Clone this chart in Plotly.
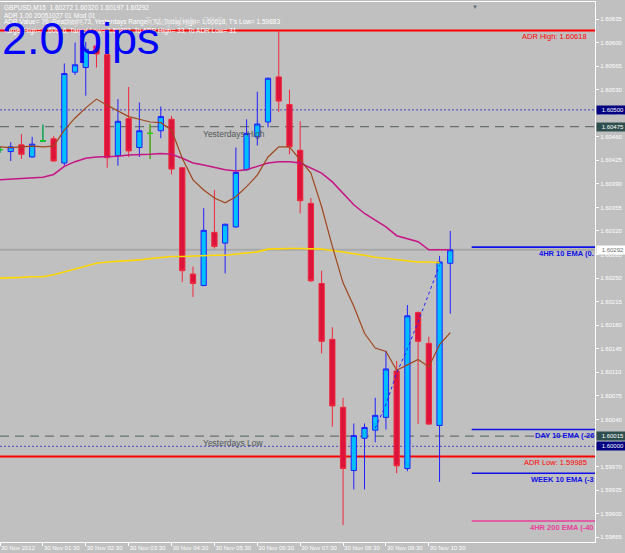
import plotly.graph_objects as go
import pandas as pd

# ---------------- data ----------------
start = pd.Timestamp("2012-11-30 00:30")
n_bars = 43
times = [start + pd.Timedelta(minutes=15 * i) for i in range(n_bars)]

opens = [1.60441, 1.60438, 1.60448, 1.60430, 1.60454, 1.60457, 1.60421, 1.60556, 1.60563, 1.60595,
         1.60582, 1.60432, 1.60487, 1.60444, 1.60465, 1.60469, 1.60486, 1.60414, 1.60256, 1.60239,
         1.60318, 1.60302, 1.60326, 1.60411, 1.60460, 1.60482, 1.60549, 1.60508, 1.60440, 1.60361,
         1.60242, 1.60159, 1.60058, 1.59964, 1.60012, 1.60024, 1.60043, 1.60112, 1.59967, 1.60199,
         1.60153, 1.60031, 1.60272]
highs = [1.60446, 1.60452, 1.60464, 1.60460, 1.60478, 1.60461, 1.60569, 1.60600, 1.60601, 1.60599,
         1.60585, 1.60516, 1.60534, 1.60511, 1.60479, 1.60505, 1.60491, 1.60415, 1.60267, 1.60354,
         1.60381, 1.60331, 1.60444, 1.60486, 1.60527, 1.60548, 1.60618, 1.60530, 1.60483, 1.60369,
         1.60261, 1.60177, 1.60072, 1.60034, 1.60034, 1.60072, 1.60142, 1.60127, 1.60210, 1.60200,
         1.60163, 1.60283, 1.60320]
lows = [1.60436, 1.60424, 1.60427, 1.60429, 1.60453, 1.60423, 1.60417, 1.60552, 1.60521, 1.60563,
        1.60414, 1.60417, 1.60430, 1.60430, 1.60427, 1.60458, 1.60404, 1.60244, 1.60222, 1.60238,
        1.60294, 1.60257, 1.60325, 1.60410, 1.60447, 1.60474, 1.60497, 1.60434, 1.60346, 1.60244,
        1.60138, 1.60029, 1.59883, 1.59936, 1.59936, 1.60006, 1.60025, 1.59960, 1.59963, 1.60033,
        1.60032, 1.59947, 1.60197]
closes = [1.60441, 1.60445, 1.60434, 1.60449, 1.60454, 1.60424, 1.60554, 1.60567, 1.60590, 1.60583,
          1.60429, 1.60483, 1.60439, 1.60469, 1.60465, 1.60490, 1.60412, 1.60261, 1.60242, 1.60321,
          1.60297, 1.60330, 1.60407, 1.60465, 1.60479, 1.60547, 1.60513, 1.60445, 1.60365, 1.60246,
          1.60156, 1.60060, 1.59967, 1.60016, 1.60028, 1.60046, 1.60115, 1.59971, 1.60194, 1.60156,
          1.60033, 1.60274, 1.60292]
doji_idx = [0, 4, 14]

ma_brown = [1.60445, 1.60444, 1.60445, 1.60446, 1.60445, 1.60446, 1.60470, 1.60488, 1.60503, 1.60516,
            1.60507, 1.60498, 1.60490, 1.60486, 1.60482, 1.60481, 1.60470, 1.60428, 1.60396, 1.60381,
            1.60369, 1.60362, 1.60371, 1.60386, 1.60403, 1.60430, 1.60445, 1.60445, 1.60426, 1.60406,
            1.60356, 1.60297, 1.60243, 1.60208, 1.60168, 1.60146, 1.60141, 1.60113, 1.60121, 1.60129,
            1.60118, 1.60151, 1.60169]
ma_magenta = [1.60396, 1.60397, 1.60397, 1.60398, 1.60400, 1.60404, 1.60416, 1.60423, 1.60428, 1.60430,
              1.60430, 1.60431, 1.60433, 1.60433, 1.60434, 1.60435, 1.60434, 1.60428, 1.60421, 1.60418,
              1.60414, 1.60411, 1.60409, 1.60411, 1.60416, 1.60421, 1.60423, 1.60423, 1.60421, 1.60414,
              1.60406, 1.60393, 1.60376, 1.60359, 1.60346, 1.60336, 1.60326, 1.60313, 1.60309, 1.60304,
              1.60292, 1.60292, 1.60292]
ma_gold = [1.60250, 1.60250, 1.60251, 1.60252, 1.60252, 1.60255, 1.60259, 1.60264, 1.60268, 1.60272,
           1.60274, 1.60275, 1.60275, 1.60277, 1.60279, 1.60281, 1.60282, 1.60282, 1.60283, 1.60284,
           1.60284, 1.60284, 1.60286, 1.60287, 1.60289, 1.60293, 1.60294, 1.60294, 1.60294, 1.60294,
           1.60293, 1.60291, 1.60289, 1.60287, 1.60284, 1.60281, 1.60279, 1.60277, 1.60275, 1.60274,
           1.60274, 1.60273]
dotted_idx = [35, 36, 37, 38, 39, 40, 41]
dotted_vals = [1.60027, 1.60062, 1.60109, 1.60145, 1.60185, 1.60228, 1.60269]

# horizontal levels
adr_high = 1.60618
adr_low = 1.59985
pivot_levels = [1.60500, 1.60000]
yest_high = 1.60475
yest_low = 1.60015
bid = 1.60292
ema_names = ["4HR 10 EMA (0.", "DAY 10 EMA (-26", "WEEK 10 EMA (-3", "4HR 200 EMA (-40"]
ema_values = [1.60296, 1.60025, 1.59960, 1.59889]
ema_colors = ["#1010E8", "#1010E8", "#1010E8", "#E8409A"]
ema_start = pd.Timestamp("2012-11-30 11:30")

y_ticks = [round(1.59865 + 0.00035 * k, 5) for k in range(23)]
x_tick_times = [pd.Timestamp("2012-11-30 %02d:30" % h) for h in range(0, 11)]
x_tick_text = ["30 Nov 2012"] + ["30 Nov %02d:30" % h for h in range(1, 11)]

x_end = start + pd.Timedelta(minutes=832.5)
y_range = [1.598578, 1.606603]

FONT = "Liberation Sans, Arial, sans-serif"

fig = go.Figure()

fig.add_trace(go.Candlestick(
    x=times, open=opens, high=highs, low=lows, close=closes,
    increasing=dict(line=dict(color="#2020FF", width=1), fillcolor="#00BFFF"),
    decreasing=dict(line=dict(color="#F0283C", width=1), fillcolor="#DC143C"),
    whiskerwidth=0, hoverinfo="skip"))
fig.add_trace(go.Candlestick(
    x=[times[i] for i in doji_idx], open=[opens[i] for i in doji_idx],
    high=[highs[i] for i in doji_idx], low=[lows[i] for i in doji_idx],
    close=[closes[i] for i in doji_idx],
    increasing=dict(line=dict(color="#00E000", width=1), fillcolor="#00E000"),
    decreasing=dict(line=dict(color="#00E000", width=1), fillcolor="#00E000"),
    whiskerwidth=0, hoverinfo="skip"))

fig.add_trace(go.Scatter(x=times[:len(ma_gold)], y=ma_gold, mode="lines",
                         line=dict(color="#FFD700", width=1.6), hoverinfo="skip"))
fig.add_trace(go.Scatter(x=times, y=ma_magenta, mode="lines",
                         line=dict(color="#C71585", width=1.5), hoverinfo="skip"))
fig.add_trace(go.Scatter(x=times, y=ma_brown, mode="lines",
                         line=dict(color="#A0461E", width=1.2), hoverinfo="skip"))
fig.add_trace(go.Scatter(x=[times[i] for i in dotted_idx], y=dotted_vals, mode="lines",
                         line=dict(color="#2020FF", width=1, dash="dot"), hoverinfo="skip"))

shapes = []
shapes.append(dict(type="line", xref="paper", x0=0, x1=1, yref="y", y0=bid, y1=bid,
                   line=dict(color="#A8A8A8", width=2), layer="below"))
for lv in (adr_high, adr_low):
    shapes.append(dict(type="line", xref="paper", x0=0, x1=1, yref="y", y0=lv, y1=lv,
                       line=dict(color="#FF0000", width=2), layer="below"))
for lv in pivot_levels:
    shapes.append(dict(type="line", xref="paper", x0=0, x1=1, yref="y", y0=lv, y1=lv,
                       line=dict(color="#4848C8", width=1, dash="2px,2px"), layer="below"))
for lv in (yest_high, yest_low):
    shapes.append(dict(type="line", xref="paper", x0=0, x1=1, yref="y", y0=lv, y1=lv,
                       line=dict(color="#6A7070", width=1.2, dash="9px,6px"), layer="below"))
for v, c in zip(ema_values, ema_colors):
    shapes.append(dict(type="line", xref="x", x0=ema_start, x1=x_end, yref="y", y0=v, y1=v,
                       line=dict(color=c, width=1.6), layer="below"))

ann = []
hdr = [
    ("GBPUSD,M15  1.60272 1.60320 1.60197 1.60292", 0.9889),
    ("ADR 1.00 20051027 01 Mod 01", 0.9741),
    ("ADR Value= 76, Reached= 73, Yesterdays Range= 72, Today High= 1.60618, T's Low= 1.59883", 0.9630),
    ("Target High= 1.60616, Target Low= 1.59883, To ADR High= 33, To ADR Low= 31", 0.9469),
]
for txt, yy in hdr:
    ann.append(dict(text=txt, xref="paper", yref="paper", x=0.004, y=yy, xanchor="left",
                    yanchor="middle", showarrow=False,
                    font=dict(family=FONT, size=6.5, color="#FFFFFF")))
ann.append(dict(text="76.0 days", xref="paper", yref="paper", x=0.065, y=0.963, xanchor="left",
                yanchor="middle", showarrow=False, font=dict(family=FONT, size=10, color="#DADADA")))
ann.append(dict(text="Today High   73.5", xref="paper", yref="paper", x=0.24, y=0.963, xanchor="left",
                yanchor="middle", showarrow=False, font=dict(family=FONT, size=10, color="#DADADA")))
ann.append(dict(text="2.0 pips", xref="paper", yref="paper", x=0.0, y=0.933, xanchor="left",
                yanchor="middle", showarrow=False, font=dict(family=FONT, size=45, color="#0000FF")))
ann.append(dict(text="ADR High: 1.60618", xref="paper", yref="y", x=0.99, y=adr_high,
                xanchor="right", yanchor="top", yshift=0, showarrow=False,
                font=dict(family=FONT, size=7.5, color="#FF0000")))
ann.append(dict(text="ADR Low: 1.59985", xref="paper", yref="y", x=0.99, y=adr_low,
                xanchor="right", yanchor="top", yshift=0, showarrow=False,
                font=dict(family=FONT, size=7.5, color="#FF0000")))
for txt, lv in (("Yesterdays High", yest_high), ("Yesterdays Low", yest_low)):
    ann.append(dict(text=txt, xref="x", yref="y", x=times[19], y=lv, xanchor="left",
                    yanchor="top", showarrow=False, xshift=-3,
                    font=dict(family=FONT, size=8.5, color="#505858")))
for t, v, c in zip(ema_names, ema_values, ema_colors):
    ann.append(dict(text="<b>%s</b>" % t, xref="paper", yref="y", x=1.0, y=v, xanchor="right",
                    yanchor="top", showarrow=False, xshift=1,
                    font=dict(family=FONT, size=7.5, color=c)))
boxes = [(1.60500, "#000080", "#FFFFFF"), (1.60475, "#2F4F4F", "#FFFFFF"),
         (bid, "#FFFFFF", "#707070"), (1.60015, "#2F4F4F", "#FFFFFF"),
         (1.60000, "#000080", "#FFFFFF")]
for v, bg, fc in boxes:
    ann.append(dict(text="%.5f" % v, xref="paper", yref="y", x=1.0, y=v, xanchor="left",
                    yanchor="middle", xshift=1, showarrow=False, bgcolor=bg, borderpad=1,
                    width=26, align="right",
                    font=dict(family=FONT, size=6, color=fc)))
ann.append(dict(text="▼", xref="paper", yref="paper", x=475 / 595, y=1.0, xanchor="center",
                yanchor="top", showarrow=False, font=dict(family=FONT, size=6, color="#607080")))

fig.update_layout(
    width=625, height=553,
    margin=dict(l=0, r=30, t=2, b=11, autoexpand=False),
    paper_bgcolor="#C0C0C0", plot_bgcolor="#C0C0C0",
    showlegend=False, shapes=shapes, annotations=ann,
    xaxis=dict(type="date", range=[start, x_end], rangeslider=dict(visible=False),
               tickvals=x_tick_times, ticktext=x_tick_text, ticks="outside", ticklen=3,
               tickangle=0, automargin=False,
               tickcolor="#FFFFFF", ticklabelposition="outside right",
               tickfont=dict(family=FONT, size=6, color="#FFFFFF"),
               showgrid=False, zeroline=False, showline=True, linecolor="#FFFFFF",
               linewidth=1, mirror=True),
    yaxis=dict(side="right", range=y_range, tickvals=y_ticks, automargin=False,
               ticktext=["%.5f" % v for v in y_ticks], ticks="outside", ticklen=3,
               tickcolor="#FFFFFF", tickfont=dict(family=FONT, size=6, color="#FFFFFF"),
               showgrid=False, zeroline=False, showline=True, linecolor="#FFFFFF",
               linewidth=1, mirror=True),
)

fig.write_html("out.html")
